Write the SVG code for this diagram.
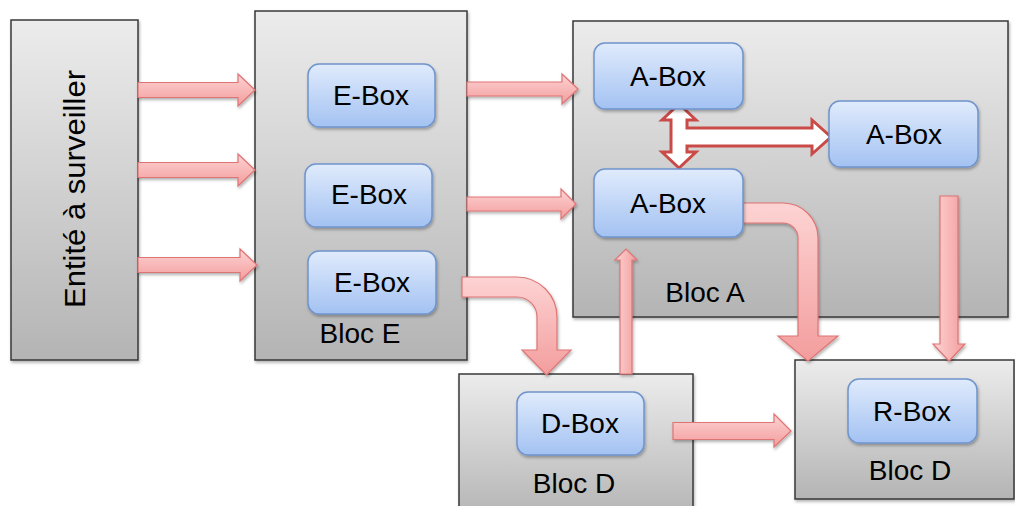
<svg xmlns="http://www.w3.org/2000/svg" width="1015" height="506" viewBox="0 0 1015 506">
<defs>
<linearGradient id="gGray" x1="0" y1="0" x2="0" y2="1">
<stop offset="0" stop-color="#ececec"/>
<stop offset="1" stop-color="#b4b4b4"/>
</linearGradient>
<linearGradient id="gBlue" x1="0" y1="0" x2="0" y2="1">
<stop offset="0" stop-color="#e0ebfc"/>
<stop offset="1" stop-color="#a3c2f2"/>
</linearGradient>
<linearGradient id="gPinkH" x1="0" y1="0" x2="0" y2="1">
<stop offset="0" stop-color="#fdd3d3"/>
<stop offset="1" stop-color="#f39d9d"/>
</linearGradient>
<linearGradient id="gPinkV" x1="0" y1="0" x2="1" y2="0">
<stop offset="0" stop-color="#fdd3d3"/>
<stop offset="1" stop-color="#f39d9d"/>
</linearGradient>
<filter id="sh" x="-10%" y="-10%" width="130%" height="130%">
<feDropShadow dx="1" dy="2" stdDeviation="1.5" flood-color="#000" flood-opacity="0.3"/>
</filter>
</defs>
<style>
.blk{fill:url(#gGray);stroke:#383838;stroke-width:1.5;filter:url(#sh)}
.box{fill:url(#gBlue);stroke:#6f94cc;stroke-width:1.5;filter:url(#sh)}
.t{font-family:"Liberation Sans",Arial,sans-serif;font-size:28px;fill:#000;text-anchor:middle}
.ah{fill:url(#gPinkH);stroke:#de7575;stroke-width:1.2;filter:url(#sh)}
.av{fill:url(#gPinkV);stroke:#de7575;stroke-width:1.2;filter:url(#sh)}
.dbl{fill:#fff;stroke:#c94a47;stroke-width:3;stroke-linejoin:miter}
</style>
<rect width="1015" height="506" fill="#fff"/>

<g id="entite">
<rect class="blk" x="11" y="20" width="127" height="340"/>
<text class="t" style="font-size:30px" textLength="238" lengthAdjust="spacingAndGlyphs" transform="translate(85,189) rotate(-90)">Entité à surveiller</text>
</g>
<g id="bloc-e">
<rect class="blk" x="255" y="11" width="212" height="349"/>
<text class="t" x="360" y="343">Bloc E</text>
</g>
<g id="bloc-a">
<rect class="blk" x="573" y="21" width="435" height="296"/>
<text class="t" x="705" y="302">Bloc A</text>
</g>
<g id="bloc-d1">
<rect class="blk" x="459" y="374" width="234" height="145"/>
<text class="t" x="574" y="493">Bloc D</text>
</g>
<g id="bloc-d2">
<rect class="blk" x="795" y="360" width="219" height="139"/>
<text class="t" x="910" y="480">Bloc D</text>
</g>

<g id="connectors">
<polygon class="ah" points="138,82.5 238,82.5 238,74 255,90 238,106 238,97.5 138,97.5"/>
<polygon class="ah" points="138,162.5 238,162.5 238,154 255,170 238,186 238,177.5 138,177.5"/>
<polygon class="ah" points="138,257.5 240,257.5 240,249 257,265 240,281 240,272.5 138,272.5"/>
<polygon class="ah" points="467,82 562,82 562,74 578,89 562,104 562,96 467,96"/>
<polygon class="ah" points="467,197 561,197 561,189 576,204 561,219 561,211 467,211"/>
<polygon class="ah" points="673,422.5 774,422.5 774,414 791,431 774,447 774,439.5 673,439.5"/>
<path class="ah" d="M462,277 L517,277 A40,40 0 0 1 557,317 L557,350 L571,350 L546.5,375 L522,350 L537,350 L537,317 A20,20 0 0 0 517,297 L462,297 Z"/>
<path class="ah" d="M743,203 L783,203 A35,35 0 0 1 818,238 L818,336 L838,336 L808,361 L778,336 L798,336 L798,238 A15,15 0 0 0 783,223 L743,223 Z"/>
<polygon class="av" points="620,374 620,260 615,260 626,249 637,260 632,260 632,374"/>
<polygon class="av" points="940,196 958,196 958,344 965,344 949,361 933,344 940,344"/>
<polygon class="dbl" points="679,104 696,120 687,120 687,128 812,128 812,120 831,137 812,154 812,146 687,146 687,152 696,152 679,168 662,152 671,152 671,120 662,120"/>
</g>

<g id="e-box-1">
<rect class="box" x="308" y="64" width="127" height="63" rx="11"/>
<text class="t" x="371" y="105">E-Box</text>
</g>
<g id="e-box-2">
<rect class="box" x="305" y="164" width="127" height="63" rx="11"/>
<text class="t" x="369" y="204">E-Box</text>
</g>
<g id="e-box-3">
<rect class="box" x="308" y="251" width="128" height="63" rx="11"/>
<text class="t" x="372" y="292">E-Box</text>
</g>
<g id="a-box-1">
<rect class="box" x="594" y="43" width="149" height="66" rx="11"/>
<text class="t" x="668" y="86">A-Box</text>
</g>
<g id="a-box-3">
<rect class="box" x="829" y="101" width="149" height="66" rx="11"/>
<text class="t" x="904" y="144">A-Box</text>
</g>
<g id="a-box-2">
<rect class="box" x="594" y="169" width="149" height="68" rx="11"/>
<text class="t" x="668" y="213">A-Box</text>
</g>
<g id="d-box">
<rect class="box" x="517" y="392" width="127" height="63" rx="11"/>
<text class="t" x="580" y="433">D-Box</text>
</g>
<g id="r-box">
<rect class="box" x="848" y="379" width="129" height="64" rx="11"/>
<text class="t" x="912" y="421">R-Box</text>
</g>
</svg>
